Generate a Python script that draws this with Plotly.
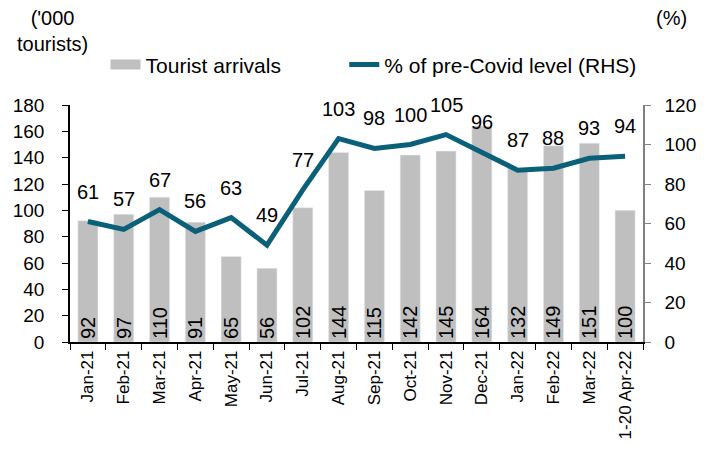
import plotly.graph_objects as go

# data
months = ["Jan-21", "Feb-21", "Mar-21", "Apr-21", "May-21", "Jun-21", "Jul-21", "Aug-21",
          "Sep-21", "Oct-21", "Nov-21", "Dec-21", "Jan-22", "Feb-22", "Mar-22", "1-20 Apr-22"]
arrivals = [92, 97, 110, 91, 65, 56, 102, 144, 115, 142, 145, 164, 132, 149, 151, 100]
pct_precovid = [61, 57, 67, 56, 63, 49, 77, 103, 98, 100, 105, 96, 87, 88, 93, 94]

FONT = "Liberation Sans, Arial, sans-serif"
BAR_COLOR = "#BFBFBF"
LINE_COLOR = "#0B6079"
NBSP = "\u00a0"

fig = go.Figure()

fig.add_trace(go.Bar(
    x=months, y=arrivals, name="Tourist arrivals", showlegend=False,
    marker_color=BAR_COLOR, width=0.56,
    text=[str(v) for v in arrivals], textposition="inside",
    insidetextanchor="start", textangle=-90, constraintext="none",
    textfont=dict(family=FONT, size=20, color="black"),
))

# legend stand-in for the bars (wide grey swatch like the original)
fig.add_trace(go.Scatter(
    x=[None], y=[None], mode="lines", name="Tourist arrivals" + NBSP * 10,
    line=dict(color=BAR_COLOR, width=14),
))

fig.add_trace(go.Scatter(
    x=months, y=pct_precovid, name="% of pre-Covid level (RHS)",
    mode="lines", yaxis="y2",
    line=dict(color=LINE_COLOR, width=5),
))

# line labels sit a fixed distance above each point
for m, v in zip(months, pct_precovid):
    fig.add_annotation(x=m, y=v, xref="x", yref="y2", text=str(v), showarrow=False,
                       yshift=30, yanchor="middle", font=dict(size=20))

fig.update_layout(
    width=715, height=468,
    margin=dict(l=62, r=80, t=97, b=134, autoexpand=False),
    paper_bgcolor="white", plot_bgcolor="white",
    font=dict(family=FONT, size=19, color="black"),
    showlegend=True,
    legend=dict(orientation="h", x=0.062, xanchor="left", y=1.169, yanchor="middle",
                font=dict(size=21), traceorder="normal", bgcolor="rgba(0,0,0,0)"),
    xaxis=dict(type="category", showline=True, linecolor="black", linewidth=1.5,
               ticks="outside", tickson="boundaries", ticklen=6, tickcolor="black",
               tickangle=-90, tickfont=dict(size=17), automargin=False,
               showgrid=False),
    yaxis=dict(range=[0, 180], dtick=20, showline=True, linecolor="black", linewidth=1.5,
               ticks="outside", ticklen=6, tickcolor="black", showgrid=False,
               zeroline=False, automargin=False, tickfont=dict(size=19),
               ticklabelstandoff=14),
    yaxis2=dict(range=[0, 120], dtick=20, overlaying="y", side="right",
                showline=True, linecolor="#808080", linewidth=1.5,
                ticks="outside", ticklen=6, tickcolor="#808080", showgrid=False,
                zeroline=False, automargin=False, tickfont=dict(size=19),
                ticklabelstandoff=10),
)

fig.add_annotation(text="('000<br>tourists)", xref="paper", yref="paper", x=-0.03,
                   y=1.423, xanchor="center", yanchor="top", showarrow=False,
                   align="center", font=dict(size=20))
fig.add_annotation(text="(%)", xref="paper", yref="paper", x=1.05, y=1.423,
                   xanchor="center", yanchor="top", showarrow=False, font=dict(size=20))

fig.write_html("out.html")
